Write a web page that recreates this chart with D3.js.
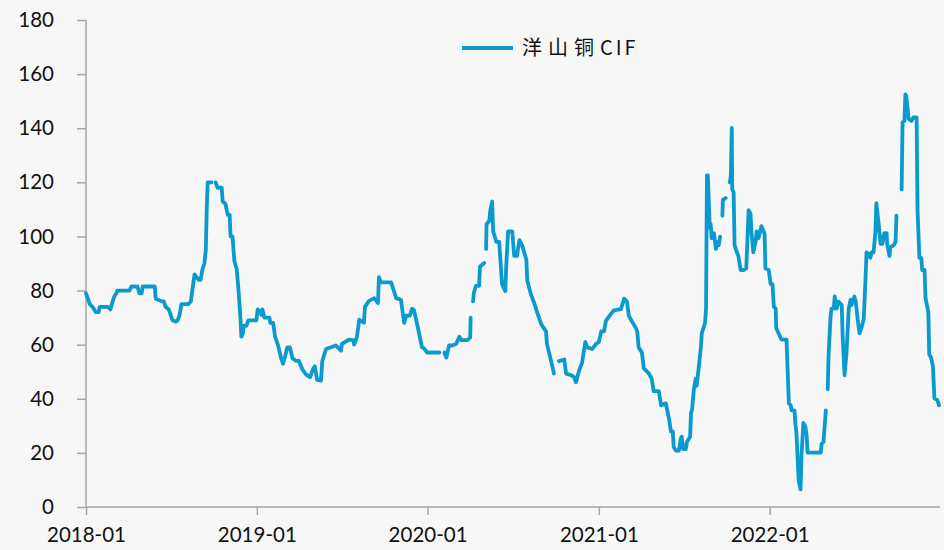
<!DOCTYPE html>
<html><head><meta charset="utf-8">
<script src="https://cdn.jsdelivr.net/npm/d3@7"></script>
<style>
html,body{margin:0;padding:0;background:#f7f7f7;}
svg{display:block;}
</style></head>
<body>
<svg id="chart" width="944" height="550"></svg>
<script>
const seriesName = "洋山铜CIF";
const yTicks = [0, 20, 40, 60, 80, 100, 120, 140, 160, 180];
const xTickDates = ["2018-01-01", "2019-01-01", "2020-01-01", "2021-01-01", "2022-01-01"];
const xTickLabels = ["2018-01", "2019-01", "2020-01", "2021-01", "2022-01"];

const dates2018 = ["2018-01-01","2018-01-05","2018-01-09","2018-01-15","2018-01-22","2018-01-28","2018-01-30","2018-02-16","2018-02-22","2018-02-27","2018-03-03","2018-03-07","2018-03-09","2018-04-04","2018-04-08","2018-04-21","2018-04-25","2018-04-30","2018-05-02","2018-05-28","2018-05-30","2018-06-12","2018-06-16","2018-06-20","2018-06-27","2018-07-01","2018-07-05","2018-07-12","2018-07-16","2018-07-20","2018-07-24","2018-08-08","2018-08-13","2018-08-17","2018-08-21","2018-08-25","2018-08-30","2018-09-03","2018-09-07","2018-09-11","2018-09-14","2018-09-16","2018-09-18","2018-09-26","2018-09-29","2018-10-05","2018-10-09","2018-10-18","2018-10-20","2018-10-26","2018-10-31","2018-11-04","2018-11-06","2018-11-10","2018-11-14","2018-11-19","2018-11-23","2018-11-27","2018-11-29","2018-12-02","2018-12-04","2018-12-10","2018-12-14","2018-12-27","2018-12-31"];
const values2018 = [79,77,75,74,72,72,74,74,73,76,78,79,80,80,81.5,81.5,79,79,81.5,81.5,77,76,76,74,73,71,69,68.5,69,71,75,75,76,81,86,85,84,84,88,90,95,110,120,120,null,120,118,118,113,112,108,108,100,100,91,88,80,70,63,64,67,67,69,69,69];

const dates2019 = ["2019-01-03","2019-01-09","2019-01-11","2019-01-13","2019-01-17","2019-01-28","2019-01-30","2019-02-05","2019-02-09","2019-02-15","2019-02-22","2019-02-26","2019-03-03","2019-03-07","2019-03-13","2019-03-18","2019-03-26","2019-04-01","2019-04-08","2019-04-16","2019-04-25","2019-05-01","2019-05-05","2019-05-10","2019-05-18","2019-05-21","2019-05-29","2019-06-19","2019-06-30","2019-07-02","2019-07-17","2019-07-26","2019-07-28","2019-08-03","2019-08-08","2019-08-18","2019-08-20","2019-08-29","2019-09-09","2019-09-17","2019-09-19","2019-09-23","2019-10-15","2019-10-26","2019-11-05","2019-11-12","2019-11-16","2019-11-24","2019-11-29","2019-12-03","2019-12-09","2019-12-20","2019-12-24","2019-12-31"];
const values2019 = [73,72,71,73,70,70,68,68,63,60,55,53,56,59,59,55,54,54,51,49,48,51,52,47,46.7,54,58.4,59.7,57.8,60.3,61.9,61.7,60,62.9,69.2,68.1,74,76.2,77.2,75.4,85,83,83,77.2,76.6,68.1,70.7,70.7,73.3,72.7,68.1,59,58.7,57.1];

const dates2020 = ["2020-01-26","2020-01-29","2020-02-06","2020-02-10","2020-02-16","2020-02-23","2020-03-02","2020-03-09","2020-03-13","2020-03-26","2020-04-01","2020-04-02","2020-04-04","2020-04-07","2020-04-09","2020-04-13","2020-04-20","2020-04-22","2020-05-01","2020-05-03","2020-05-05","2020-05-06","2020-05-12","2020-05-14","2020-05-18","2020-05-20","2020-05-27","2020-06-02","2020-06-06","2020-06-08","2020-06-15","2020-06-17","2020-06-21","2020-06-30","2020-07-04","2020-07-10","2020-07-15","2020-07-21","2020-07-30","2020-08-01","2020-08-09","2020-08-16","2020-08-22","2020-08-31","2020-09-10","2020-09-12","2020-09-21","2020-09-27","2020-10-01","2020-10-08","2020-10-19","2020-10-23","2020-11-03","2020-11-09","2020-11-13","2020-11-20","2020-11-26","2020-12-03","2020-12-07","2020-12-18","2020-12-26"];
const values2020 = [57.1,null,57.1,55.2,59.7,59.7,60.3,62.9,61.7,61.7,62.6,70,null,76,79.2,81.7,81.7,88.9,90.2,null,95.4,104.5,105.8,109.7,112.9,101.9,98,98,87.6,82.4,79.8,88.9,101.9,101.9,92.8,92.8,98.6,96.7,91.5,83.7,78.5,75.3,72,67.5,64.9,60.3,53.9,49.3,null,53.9,54.5,49.3,48.7,48,46.1,50.6,53.2,61,59,58.4,60.3];

const dates2021 = ["2021-01-01","2021-01-06","2021-01-12","2021-01-16","2021-01-27","2021-02-02","2021-02-17","2021-02-24","2021-03-02","2021-03-06","2021-03-12","2021-03-21","2021-03-24","2021-03-27","2021-04-03","2021-04-07","2021-04-18","2021-04-24","2021-04-28","2021-05-09","2021-05-14","2021-05-24","2021-05-31","2021-06-04","2021-06-08","2021-06-10","2021-06-15","2021-06-21","2021-06-25","2021-06-27","2021-06-30","2021-07-06","2021-07-08","2021-07-15","2021-07-17","2021-07-19","2021-07-23","2021-07-27","2021-07-29","2021-08-03","2021-08-07","2021-08-09","2021-08-16","2021-08-18","2021-08-20","2021-08-22","2021-08-26","2021-08-28","2021-08-30","2021-09-04","2021-09-08","2021-09-10","2021-09-14","2021-09-17","2021-09-19","2021-09-22","2021-09-23","2021-09-29","2021-10-03","2021-10-08","2021-10-10","2021-10-12","2021-10-13","2021-10-16","2021-10-18","2021-10-22","2021-10-26","2021-10-31","2021-11-06","2021-11-12","2021-11-17","2021-11-21","2021-11-23","2021-11-27","2021-12-02","2021-12-04","2021-12-08","2021-12-12","2021-12-14","2021-12-21","2021-12-23","2021-12-30"];
const values2021 = [61,64.9,64.9,68.8,71.4,72.7,73.1,77,75.9,70.7,68.8,66.2,64.9,59,57.1,51.3,49.3,47.4,42.8,42.8,37.6,38.3,32.5,27.9,27.9,22.1,20.8,20.8,25.3,26,21.4,21.4,24,26,35,35.7,43.5,47.4,44.8,52.5,59,64.2,68.1,73.3,122.6,122.6,103.2,104.5,99.3,101.2,95.4,98,96.7,99.9,null,107.7,113.5,114.2,null,120,122.6,140.1,117.4,116.2,96.7,94.7,92.8,87.6,87.6,88.2,109.7,108.4,101.9,94.1,98,101.9,99.3,101.9,103.8,101.2,88.2,87.6];

const dates2022 = ["2022-01-03","2022-01-07","2022-01-10","2022-01-14","2022-01-15","2022-01-20","2022-01-25","2022-01-27","2022-02-06","2022-02-11","2022-02-15","2022-02-17","2022-02-23","2022-02-25","2022-02-27","2022-03-04","2022-03-08","2022-03-10","2022-03-14","2022-03-18","2022-03-21","2022-03-23","2022-04-20","2022-04-22","2022-04-26","2022-05-01","2022-05-03","2022-05-05","2022-05-07","2022-05-11","2022-05-13","2022-05-18","2022-05-20","2022-05-24","2022-05-28","2022-06-04","2022-06-06","2022-06-10","2022-06-14","2022-06-19","2022-06-23","2022-06-25","2022-07-01","2022-07-04","2022-07-08","2022-07-12","2022-07-16","2022-07-21","2022-07-25","2022-07-27","2022-08-02","2022-08-04","2022-08-07","2022-08-11","2022-08-15","2022-08-17","2022-08-22","2022-08-26","2022-08-30","2022-09-03","2022-09-08","2022-09-09","2022-09-14","2022-09-16","2022-09-23","2022-09-27","2022-09-29","2022-10-03","2022-10-10","2022-10-12","2022-10-16","2022-10-18","2022-10-20","2022-10-25","2022-10-31","2022-11-04","2022-11-11","2022-11-13","2022-11-17","2022-11-21","2022-11-23","2022-11-28","2022-11-30","2022-12-06","2022-12-08","2022-12-12","2022-12-16","2022-12-19","2022-12-25","2022-12-29"];
const values2022 = [82.4,82.4,74,73.3,66.2,64.2,62.3,61.9,61.9,38.3,37.6,35.7,35.7,30.5,27.9,9.7,6.5,18.8,31.1,29.9,26.6,20.1,20.1,23.4,24,35.7,null,43.5,56.4,70,73.3,73.3,77.8,73.3,75.9,74.6,62.9,48.7,56.4,73.3,76.6,74.6,77.8,75.9,69.4,64.2,66.2,69.4,85,94.1,93.4,92.1,94.1,94.1,101.9,112.3,104.5,97.3,97.3,101.2,101.2,97.3,92.8,96,96.7,98,107.7,null,117.4,142.1,142.7,152.5,151.8,143.4,142.7,144,144,109.7,92.1,92.1,87.6,87.6,77.2,72,56.4,55.2,51.9,40.2,39.6,37.6];

const parse = d3.timeParse("%Y-%m-%d");
const allDates = [].concat(dates2018, dates2019, dates2020, dates2021, dates2022);
const allValues = [].concat(values2018, values2019, values2020, values2021, values2022);
const data = allDates.map((d, i) => ({date: parse(d), value: allValues[i]}));

const svg = d3.select("#chart");
const margin = {left: 86, right: 4, top: 20, bottom: 43};
const W = 944, H = 550;

const x = d3.scaleTime()
  .domain([parse("2018-01-01"), parse("2022-12-31")])
  .range([margin.left, W - margin.right]);
const y = d3.scaleLinear()
  .domain([0, 180])
  .range([H - margin.bottom, margin.top]);

const axisColor = "#a6a6a6";
const lineColor = "#0b9ad0";
const font = "Lato, 'Open Sans', sans-serif";

// y axis
const yAxis = svg.append("g")
  .attr("transform", `translate(${margin.left},0)`)
  .call(d3.axisLeft(y).tickValues(yTicks).tickSize(9).tickPadding(23).tickFormat(d3.format("d")));
yAxis.selectAll("path,line").attr("stroke", axisColor).attr("stroke-width", 1.5);
yAxis.select(".domain").attr("d", `M0,${y(180)}V${y(0)}`);
yAxis.selectAll("text").attr("fill", "#111").style("font-family", font).style("font-size", "20.5px");

// x axis
const xAxis = svg.append("g")
  .attr("transform", `translate(0,${y(0)})`)
  .call(d3.axisBottom(x).tickValues(xTickDates.map(parse)).tickSize(8).tickPadding(12)
    .tickFormat((d, i) => xTickLabels[i]));
xAxis.selectAll("path,line").attr("stroke", axisColor).attr("stroke-width", 1.5);
xAxis.select(".domain").attr("d", `M${x.range()[0]},0H${x.range()[1]}`);
xAxis.selectAll("text").attr("fill", "#111").style("font-family", font).style("font-size", "20.5px");

// series line
const line = d3.line()
  .defined(d => d.value != null)
  .x(d => x(d.date))
  .y(d => y(d.value));

svg.append("path")
  .datum(data)
  .attr("fill", "none")
  .attr("stroke", lineColor)
  .attr("stroke-width", 3.8)
  .attr("stroke-linejoin", "round")
  .attr("stroke-linecap", "round")
  .attr("d", line);

// legend
const lg = svg.append("g").attr("transform", "translate(462,48)");
lg.append("line").attr("x1", 0).attr("x2", 51).attr("y1", 0).attr("y2", 0)
  .attr("stroke", lineColor).attr("stroke-width", 3.8);
const cjkPart = seriesName.replace(/[A-Za-z]+$/, "");
const latinPart = seriesName.slice(cjkPart.length);
const lt = lg.append("text").attr("x", 60).attr("y", 0).attr("dy", "0.35em")
  .attr("fill", "#111")
  .style("font-family", "'Noto Sans CJK SC', sans-serif")
  .style("font-size", "20px");
lt.append("tspan").style("letter-spacing", "6px").text(cjkPart);
lt.append("tspan").style("letter-spacing", "3px").text(latinPart);
</script>
</body></html>
